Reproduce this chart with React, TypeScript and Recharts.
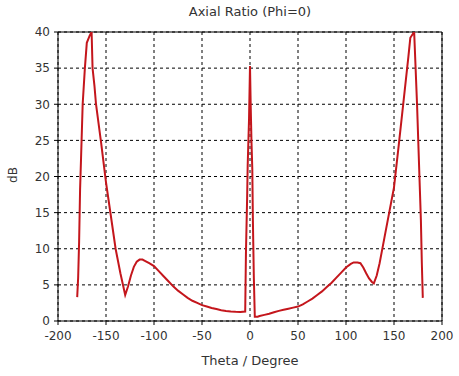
import { LineChart, Line, XAxis, YAxis, CartesianGrid, ReferenceLine } from 'recharts';

// Theta (degree) samples and axial ratio (dB)
const theta = [
  -180, -179, -178, -177, -176, -174.3, -172, -170, -167, -165, -164, -162, -160.4, -155, -150,
  -145, -140, -135, -130, -127, -124, -121, -118, -115, -112, -109, -105, -100, -95, -90,
  -85, -80, -75, -70, -65, -60, -55, -50, -45, -40, -35, -30, -25, -20, -15,
  -10, -5, -4.2, -3, -2.4, -1, 0, 0.7, 1.5, 2.4, 3, 4, 5, 8, 10,
  15, 20, 25, 30, 35, 40, 45, 50, 55, 60, 65, 70, 75, 80, 85,
  90, 95, 100, 105, 108, 112, 115, 118, 121, 124, 127, 129, 132, 135, 140,
  145, 150, 155, 160, 165, 167, 171, 174, 177, 178, 179, 180,
];
const axialRatio = [
  3.3, 6, 11, 18.2, 22.5, 30, 35, 38.5, 39.5, 40, 35, 32.5, 30, 24.6, 19.2,
  14.6, 10, 6.6, 3.6, 4.8, 6.3, 7.5, 8.2, 8.5, 8.5, 8.3, 8.0, 7.6, 6.9, 6.2,
  5.5, 4.8, 4.2, 3.7, 3.2, 2.8, 2.5, 2.2, 2.0, 1.8, 1.65, 1.5, 1.4, 1.33, 1.28,
  1.25, 1.3, 9.6, 17, 21.6, 28, 35.3, 30, 25, 21, 14, 6, 0.6, 0.6, 0.7,
  0.85, 1.0, 1.2, 1.4, 1.55, 1.7, 1.85, 2.0, 2.3, 2.7, 3.1, 3.6, 4.1, 4.7, 5.3,
  6.0, 6.7, 7.4, 7.9, 8.1, 8.1, 8.0, 7.4, 6.6, 5.9, 5.4, 5.2, 6.3, 8, 11.5,
  15, 18.5, 24.4, 30.5, 36.6, 39.2, 40, 30, 18, 14, 8, 3.2,
];

const xTicks = [-200, -150, -100, -50, 0, 50, 100, 150, 200];
const yTicks = [0, 5, 10, 15, 20, 25, 30, 35, 40];

const data = theta.map((t, i) => ({ theta: t, ar: axialRatio[i] }));

const font = '"DejaVu Sans", sans-serif';
const textStyle = { fontFamily: font, fontSize: 12, fill: '#333' };

export default function App() {
  return (
    <div style={{ position: 'absolute', left: 0, top: 0, width: 459, height: 376, background: '#fff', fontFamily: font }}>
      <div style={{ position: 'absolute', left: 0, width: 500, top: 4, textAlign: 'center', fontSize: 13, color: '#333' }}>
        Axial Ratio (Phi=0)
      </div>
      <div
        style={{
          position: 'absolute', left: 13, top: 175, fontSize: 12, color: '#333',
          transform: 'translate(-50%, -50%) rotate(-90deg)',
        }}
      >
        dB
      </div>
      <div style={{ position: 'absolute', left: 0, width: 500, top: 353, textAlign: 'center', fontSize: 13, color: '#333' }}>
        Theta / Degree
      </div>
      <LineChart width={459} height={376} data={data} margin={{ top: 32, right: 17, bottom: 25, left: 18 }}>
        <CartesianGrid stroke="#000" strokeDasharray="3 3" vertical horizontal />
        <XAxis
          dataKey="theta"
          type="number"
          domain={[-200, 200]}
          ticks={xTicks}
          allowDataOverflow
          stroke="#000"
          tick={textStyle}
          tickSize={4}
          tickMargin={6}
          height={30}
        />
        <YAxis
          type="number"
          domain={[0, 40]}
          ticks={yTicks}
          allowDataOverflow
          stroke="#000"
          tick={textStyle}
          tickSize={4}
          tickMargin={4}
          width={40}
        />
        <ReferenceLine y={40} stroke="#000" />
        <ReferenceLine x={200} stroke="#000" />
        <Line
          type="linear"
          dataKey="ar"
          stroke="#c4161c"
          strokeWidth={2}
          dot={false}
          isAnimationActive={false}
        />
      </LineChart>
    </div>
  );
}
